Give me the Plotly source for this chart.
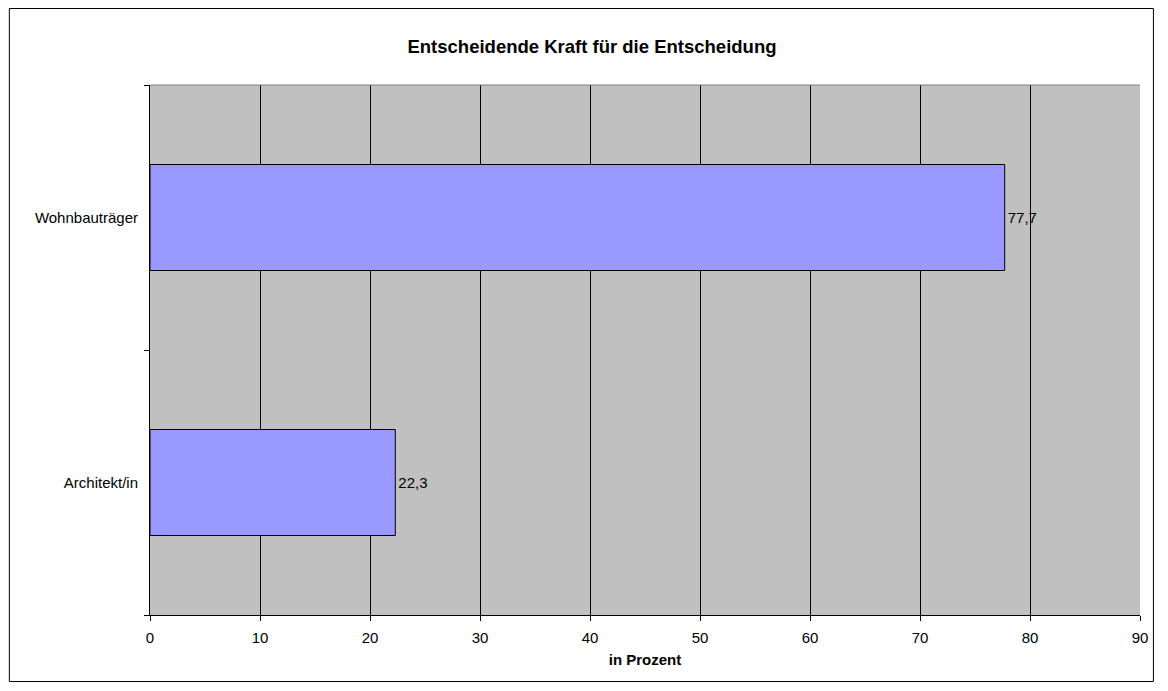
import plotly.graph_objects as go

categories = ["Architekt/in", "Wohnbauträger"]
values = [22.3, 77.7]
x_ticks = [0, 10, 20, 30, 40, 50, 60, 70, 80, 90]

title_text = "Entscheidende Kraft für die Entscheidung"
x_title = "in Prozent"

FONT = "Liberation Sans, Arial, sans-serif"
W, H = 1152, 674
L, R, T, B = 142, 14, 77, 67
PW, PH = W - L - R, H - T - B

fig = go.Figure()
fig.add_trace(go.Bar(
    y=categories,
    x=values,
    orientation="h",
    width=0.4,
    marker=dict(color="#9999FF", line=dict(color="#000000", width=1)),
    text=values,
    texttemplate="%{x:.1f}",
    textposition="outside",
    textfont=dict(family=FONT, size=15, color="#000000"),
    cliponaxis=False,
    hoverinfo="skip",
))

fig.update_layout(
    width=W,
    height=H,
    margin=dict(l=L, r=R, t=T, b=B),
    paper_bgcolor="#FFFFFF",
    plot_bgcolor="#C0C0C0",
    separators=",.",
    showlegend=False,
    font=dict(family=FONT, size=15, color="#000000"),
    title=dict(
        text="<b>" + title_text + "</b>",
        x=584 / W,
        xanchor="center",
        y=1 - 39 / H,
        yanchor="middle",
        font=dict(family=FONT, size=18.5, color="#000000"),
    ),
    xaxis=dict(
        range=[0, 90],
        tickvals=x_ticks,
        ticktext=[str(v) for v in x_ticks],
        showgrid=True,
        gridcolor="#000000",
        gridwidth=1,
        zeroline=False,
        showline=True,
        linecolor="#000000",
        linewidth=1,
        ticks="outside",
        ticklen=5,
        tickcolor="#000000",
        tickfont=dict(family=FONT, size=15, color="#000000"),
        ticklabelstandoff=4,
        title=dict(text="<b>" + x_title + "</b>", font=dict(family=FONT, size=15, color="#000000"), standoff=9),
        fixedrange=True,
    ),
    yaxis=dict(
        type="category",
        categoryorder="array",
        categoryarray=categories,
        showgrid=False,
        zeroline=False,
        showline=True,
        linecolor="#000000",
        linewidth=1,
        ticks="outside",
        tickson="boundaries",
        ticklen=5,
        tickcolor="#000000",
        tickfont=dict(family=FONT, size=15, color="#000000"),
        ticklabelstandoff=8,
        fixedrange=True,
    ),
    shapes=[
        dict(type="line", xref="paper", yref="paper", x0=0, x1=1, y0=1, y1=1,
             line=dict(color="#808080", width=1), layer="above"),
        dict(type="rect", xref="paper", yref="paper",
             x0=(0.5 - L) / PW, x1=(W - 0.5 - L) / PW,
             y0=(PH + T - (H - 0.5)) / PH, y1=(PH + T - 0.5) / PH,
             line=dict(color="#000000", width=1), fillcolor="rgba(0,0,0,0)"),
    ],
)

fig.write_html("out.html")
